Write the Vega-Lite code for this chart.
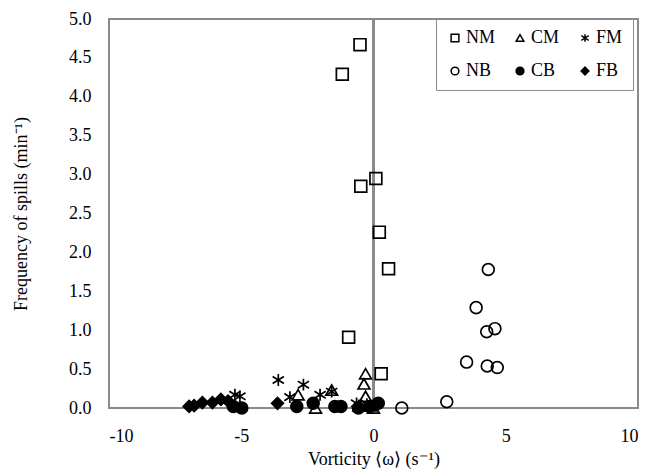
{
  "$schema": "https://vega.github.io/schema/vega-lite/v6.json",
  "autosize": "none",
  "width": 529,
  "height": 389,
  "padding": {"left": 109, "top": 19, "right": 13, "bottom": 67},
  "background": "white",
  "config": {
    "view": {"stroke": "#8a8a8a", "strokeWidth": 2},
    "font": "Liberation Serif",
    "axis": {
      "labelFont": "Liberation Serif",
      "titleFont": "Liberation Serif",
      "labelFontSize": 18,
      "titleFontSize": 18,
      "titleFontWeight": "normal",
      "labelColor": "black",
      "titleColor": "black",
      "grid": false,
      "domain": false
    },
    "legend": {
      "labelFont": "Liberation Serif",
      "labelFontSize": 18,
      "labelColor": "black"
    }
  },
  "data": {
    "values": [
      {"series": "NM", "vorticity": -0.51, "freq": 4.67},
      {"series": "NM", "vorticity": -1.18, "freq": 4.29},
      {"series": "NM", "vorticity": 0.09, "freq": 2.95},
      {"series": "NM", "vorticity": -0.48, "freq": 2.85},
      {"series": "NM", "vorticity": 0.22, "freq": 2.26},
      {"series": "NM", "vorticity": 0.57, "freq": 1.79},
      {"series": "NM", "vorticity": -0.94, "freq": 0.91},
      {"series": "NM", "vorticity": 0.29, "freq": 0.44},
      {"series": "CM", "vorticity": -0.30, "freq": 0.44},
      {"series": "CM", "vorticity": -0.36, "freq": 0.31},
      {"series": "CM", "vorticity": -0.30, "freq": 0.15},
      {"series": "CM", "vorticity": -0.10, "freq": 0.03},
      {"series": "CM", "vorticity": 0.0, "freq": 0.0},
      {"series": "CM", "vorticity": -2.19, "freq": 0.0},
      {"series": "CM", "vorticity": -1.58, "freq": 0.23},
      {"series": "CM", "vorticity": -2.85, "freq": 0.17},
      {"series": "CM", "vorticity": -0.55, "freq": 0.03},
      {"series": "FM", "vorticity": -3.60, "freq": 0.36},
      {"series": "FM", "vorticity": -2.65, "freq": 0.30},
      {"series": "FM", "vorticity": -3.16, "freq": 0.14},
      {"series": "FM", "vorticity": -2.02, "freq": 0.17},
      {"series": "FM", "vorticity": -1.58, "freq": 0.21},
      {"series": "FM", "vorticity": -0.64, "freq": 0.06},
      {"series": "FM", "vorticity": -5.24, "freq": 0.17},
      {"series": "FM", "vorticity": -5.05, "freq": 0.15},
      {"series": "FM", "vorticity": -0.25, "freq": 0.05},
      {"series": "NB", "vorticity": 4.34, "freq": 1.78},
      {"series": "NB", "vorticity": 3.88, "freq": 1.29},
      {"series": "NB", "vorticity": 4.59, "freq": 1.02},
      {"series": "NB", "vorticity": 4.28, "freq": 0.98},
      {"series": "NB", "vorticity": 3.52, "freq": 0.59},
      {"series": "NB", "vorticity": 4.30, "freq": 0.54},
      {"series": "NB", "vorticity": 4.68, "freq": 0.52},
      {"series": "NB", "vorticity": 2.77, "freq": 0.08},
      {"series": "NB", "vorticity": 1.07, "freq": 0.0},
      {"series": "CB", "vorticity": -2.90, "freq": 0.02},
      {"series": "CB", "vorticity": -2.28, "freq": 0.06},
      {"series": "CB", "vorticity": -1.46, "freq": 0.02},
      {"series": "CB", "vorticity": -1.23, "freq": 0.02},
      {"series": "CB", "vorticity": -0.57, "freq": 0.0},
      {"series": "CB", "vorticity": 0.18, "freq": 0.06},
      {"series": "CB", "vorticity": -0.15, "freq": 0.02},
      {"series": "CB", "vorticity": -5.30, "freq": 0.02},
      {"series": "CB", "vorticity": -4.98, "freq": 0.0},
      {"series": "FB", "vorticity": -6.97, "freq": 0.02},
      {"series": "FB", "vorticity": -6.78, "freq": 0.03},
      {"series": "FB", "vorticity": -6.47, "freq": 0.07},
      {"series": "FB", "vorticity": -6.09, "freq": 0.07},
      {"series": "FB", "vorticity": -5.77, "freq": 0.11},
      {"series": "FB", "vorticity": -5.50, "freq": 0.09},
      {"series": "FB", "vorticity": -3.63, "freq": 0.06}
    ]
  },
  "layer": [
    {
      "mark": {"type": "rule", "color": "#8a8a8a", "strokeWidth": 2},
      "encoding": {"x": {"datum": 0, "type": "quantitative"}}
    },
    {
      "mark": {"type": "point", "stroke": "black", "strokeWidth": 1.7, "opacity": 1, "size": 140},
      "encoding": {
        "x": {
          "field": "vorticity", "type": "quantitative",
          "scale": {"domain": [-10, 10], "nice": false, "zero": false},
          "axis": {"values": [-10, -5, 0, 5, 10], "labelExpr": "'' + datum.value", "title": "Vorticity ⟨ω⟩  (s⁻¹)",
                   "ticks": false, "labelPadding": 19, "titlePadding": 5}
        },
        "y": {
          "field": "freq", "type": "quantitative",
          "scale": {"domain": [0, 5], "nice": false},
          "axis": {"values": [0, 0.5, 1, 1.5, 2, 2.5, 3, 3.5, 4, 4.5, 5], "format": ".1f",
                   "title": "Frequency of spills (min⁻¹)", "ticks": false, "labelPadding": 18, "titlePadding": 38}
        },
        "shape": {
          "field": "series", "type": "nominal",
          "scale": {
            "domain": ["NM", "CM", "FM", "NB", "CB", "FB"],
            "range": ["square", "triangle-up", "M0,-1L0,1M-0.95,-0.6L0.95,0.6M-0.95,0.6L0.95,-0.6", "circle", "circle", "diamond"]
          },
          "legend": {
            "title": null, "orient": "none", "legendX": 327, "legendY": 0,
            "direction": "horizontal", "columns": 3, "gridAlign": "all",
            "columnPadding": 15, "rowPadding": 15, "padding": 10,
            "strokeColor": "#8a8a8a", "fillColor": "white",
            "symbolSize": 60, "labelOffset": 2,
            "encode": {
              "symbols": {"update": {"stroke": {"value": "black"}, "strokeWidth": {"value": 1.7}}},
              "legend": {"update": {"strokeWidth": {"value": 2}}}
            }
          }
        },
        "fill": {
          "field": "series", "type": "nominal",
          "scale": {
            "domain": ["NM", "CM", "FM", "NB", "CB", "FB"],
            "range": ["transparent", "transparent", "transparent", "transparent", "black", "black"]
          },
          "legend": null
        }
      }
    }
  ]
}
